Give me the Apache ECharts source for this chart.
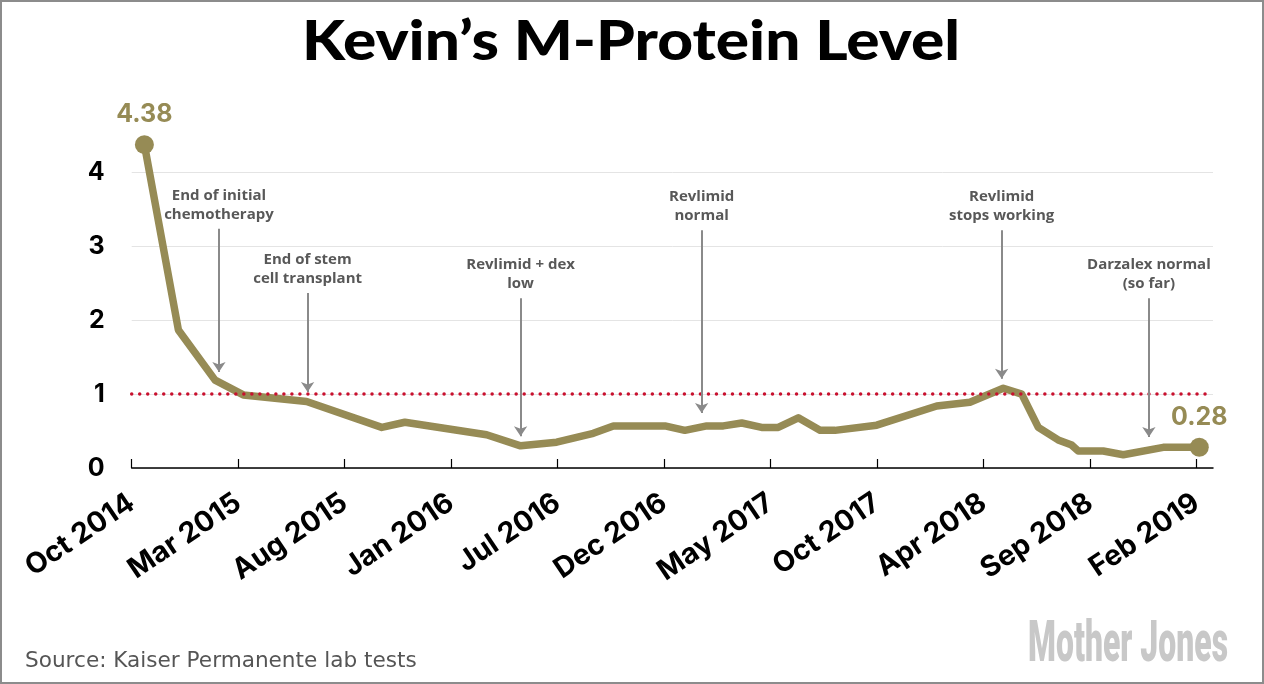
<!DOCTYPE html>
<html><head><meta charset="utf-8">
<script src="https://cdn.jsdelivr.net/npm/echarts@6/dist/echarts.min.js"></script>
<style>html,body{margin:0;padding:0;background:#fff}#c{width:1264px;height:684px}</style>
</head><body><div id="c"></div>
<script>
// x values are months since Oct 2014
const tickLabels = ['Oct 2014','Mar 2015','Aug 2015','Jan 2016','Jul 2016','Dec 2016','May 2017','Oct 2017','Apr 2018','Sep 2018','Feb 2019'];
const tickMonths = [0, 5.2, 10.4, 15.6, 20.8, 26, 31.2, 36.4, 41.6, 46.8, 52];
const yTicks = [0, 1, 2, 3, 4];

const months = [0.62, 2.28, 4.07, 5.45, 8.54, 12.21, 13.34, 17.33, 18.99, 20.75, 22.54, 23.52, 26.04, 27.01, 28.08, 28.89, 29.79, 30.76, 31.57, 32.55, 33.61, 34.34, 36.38, 39.31, 40.93, 42.56, 43.46, 44.27, 45.24, 45.90, 46.22, 47.44, 48.42, 50.37, 52.13];
const levels = [4.38, 1.87, 1.19, 0.99, 0.90, 0.55, 0.62, 0.45, 0.30, 0.35, 0.47, 0.57, 0.57, 0.51, 0.57, 0.57, 0.61, 0.55, 0.55, 0.68, 0.51, 0.51, 0.58, 0.84, 0.89, 1.08, 1.00, 0.55, 0.38, 0.31, 0.23, 0.23, 0.18, 0.28, 0.28];

const normalLevel = 1;

const annoText = ['End of initial\nchemotherapy', 'End of stem\ncell transplant', 'Revlimid + dex\nlow', 'Revlimid\nnormal', 'Revlimid\nstops working', 'Darzalex normal\n(so far)'];
const annoMonth = [4.26, 8.59, 18.99, 27.83, 42.48, 49.67];
const annoTop = [3.24, 2.37, 2.30, 3.22, 3.22, 2.30];
const annoTip = [1.30, 1.03, 0.43, 0.745, 1.21, 0.42];

const olive = '#968b55';
const last = months.length - 1;

const seriesData = months.map((m, i) => {
  const isEnd = (i === 0 || i === last);
  return {
    value: [m, levels[i]],
    symbol: isEnd ? 'circle' : 'none',
    symbolSize: 19,
    label: { show: isEnd }
  };
});

const annoLines = annoText.map((t, i) => [
  { coord: [annoMonth[i], annoTop[i]], symbol: 'none',
    label: { show: true, position: 'start', distance: 5, formatter: t,
      fontFamily: 'Open Sans', fontWeight: 'bold', fontSize: 15, lineHeight: 19, color: '#585858' },
    lineStyle: { color: '#8a8a8a', width: 2, type: 'solid' } },
  { coord: [annoMonth[i], annoTip[i]], symbol: 'arrow' }
]);

const chart = echarts.init(document.getElementById('c'), null, { renderer: 'canvas' });
chart.setOption({
  animation: false,
  backgroundColor: '#fff',
  grid: { left: 131.7, right: 51, top: 172.7, bottom: 216, outerBoundsMode: 'none' },
  xAxis: {
    type: 'value', min: 0, max: 52.8,
    axisLine: { show: true, lineStyle: { color: '#000', width: 1.5 } },
    axisTick: { show: true, inside: true, length: 9, lineStyle: { color: '#000', width: 1.2 }, customValues: tickMonths },
    axisLabel: {
      customValues: tickMonths, rotate: 34, margin: 32,
      fontFamily: 'Inter', fontWeight: 'bold', fontSize: 28.5, color: '#000',
      formatter: v => { const k = tickMonths.findIndex(t => Math.abs(t - v) < 0.01); return k >= 0 ? tickLabels[k] : ''; }
    },
    splitLine: { show: false }
  },
  yAxis: {
    type: 'value', min: 0, max: 4, interval: 1,
    axisLine: { show: false }, axisTick: { show: false },
    axisLabel: { margin: 27, fontFamily: 'Inter', fontWeight: 'bold', fontSize: 25, color: '#000',
      formatter: v => yTicks.indexOf(v) >= 0 ? String(v) : '' },
    splitLine: { show: true, lineStyle: { color: '#e4e4e4', width: 1 } }
  },
  series: [{
    type: 'line',
    data: seriesData,
    clip: false,
    showSymbol: true,
    itemStyle: { color: olive },
    lineStyle: { color: olive, width: 7.5, join: 'round', cap: 'round' },
    label: { position: 'top', distance: 8, fontFamily: 'Inter', fontWeight: 'bold', fontSize: 25, color: olive,
      formatter: p => p.value[1].toFixed(2) },
    emphasis: { disabled: true },
    markLine: {
      silent: true,
      animation: false,
      symbol: ['none', 'none'],
      symbolSize: 10,
      data: [
        { yAxis: normalLevel, label: { show: false },
          lineStyle: { color: '#c8102e', width: 3.5, type: [0.01, 8], cap: 'round' } }
      ].concat(annoLines)
    }
  }],
  graphic: [
    { type: 'rect', shape: { x: 1, y: 1, width: 1262, height: 682 }, style: { fill: 'none', stroke: '#8c8c8c', lineWidth: 2 }, silent: true },
    { type: 'text', x: 631, y: 42, scaleX: 1.13,
      style: { text: 'Kevin\u2019s M-Protein Level', fontFamily: 'Lato', fontWeight: 900, fontSize: 55, fill: '#000', textAlign: 'center', textVerticalAlign: 'middle' } },
    { type: 'text', x: 25, y: 661,
      style: { text: 'Source: Kaiser Permanente lab tests', fontFamily: 'DejaVu Sans', fontSize: 21.6, fill: '#555', textAlign: 'left', textVerticalAlign: 'middle' } },
    { type: 'text', x: 1028, y: 647, scaleX: 0.56,
      style: { text: 'Mother Jones', fontFamily: 'Roboto', fontWeight: 900, fontSize: 57, fill: '#c8c8c8', textAlign: 'left', textVerticalAlign: 'middle' } }
  ]
});
</script>
</body></html>
